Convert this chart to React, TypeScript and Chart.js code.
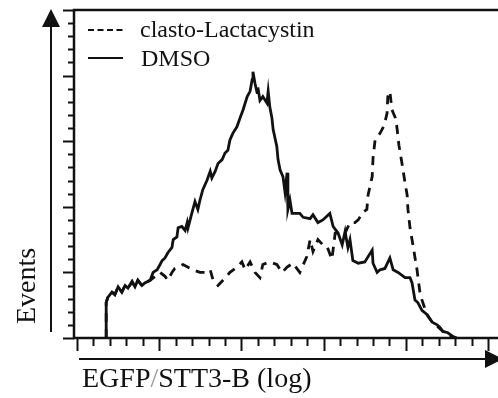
import React, { useEffect, useRef } from "react";
import { Chart, registerables } from "chart.js";

Chart.register(...registerables);

// Histogram data: channel (0..1024, log display) vs events
const dmsoChannels = [
  71, 71, 75, 85, 92, 100, 109, 117, 124, 134,
  141, 148, 158, 165, 178, 185, 195, 202, 207, 214,
  221, 231, 234, 243, 246, 255, 263, 268, 270, 280,
  287, 294, 299, 306, 316, 324, 328, 336, 343, 353,
  360, 367, 372, 379, 389, 397, 404, 414, 421, 426,
  428, 433, 438, 440, 445, 452, 462, 465, 469, 474,
  477, 486, 489, 494, 501, 506, 511, 513, 518, 523,
  542, 550, 567, 574, 586, 598, 615, 623, 635, 645,
  652, 659, 664, 671, 684, 700, 718, 720, 730, 737,
  749, 761, 769, 781, 798, 810, 815, 822, 829, 839,
  851, 864, 876, 883, 890, 902, 915, 924,
];
const dmsoCounts = [
  0, 27, 31, 35, 33, 39, 35, 40, 38, 43,
  39, 44, 40, 42, 44, 50, 52, 56, 59, 61,
  65, 69, 75, 77, 84, 85, 82, 88, 84, 96,
  104, 98, 105, 113, 120, 127, 122, 127, 133, 136,
  141, 143, 151, 156, 161, 168, 174, 184, 188, 197,
  203, 194, 187, 191, 181, 184, 179, 188, 176, 168,
  159, 146, 136, 128, 123, 111, 126, 98, 105, 95,
  95, 92, 91, 94, 88, 90, 95, 85, 80, 71,
  81, 69, 75, 59, 57, 58, 67, 57, 50, 52,
  53, 61, 52, 50, 46, 46, 42, 29, 27, 21,
  18, 12, 10, 8, 5, 4, 1, 0,
];

const clastoChannels = [
  71, 71, 75, 85, 92, 100, 109, 117, 124, 134,
  141, 148, 158, 165, 178, 190, 202, 214, 221, 231,
  238, 258, 270, 282, 299, 311, 324, 331, 343, 355,
  372, 389, 401, 409, 421, 433, 445, 452, 469, 486,
  499, 511, 525, 542, 559, 567, 574, 586, 598, 608,
  620, 628, 652, 664, 676, 684, 696, 705, 708, 718,
  720, 725, 737, 747, 754, 756, 761, 766, 774, 778,
  783, 791, 798, 803, 805, 810, 817, 827, 834, 839,
  851, 864, 876, 890, 902, 919,
];
const clastoCounts = [
  0, 27, 31, 35, 33, 39, 35, 40, 38, 43,
  39, 44, 40, 42, 44, 47, 50, 47, 44, 50,
  53, 56, 54, 52, 50, 50, 52, 44, 40, 44,
  50, 54, 58, 52, 58, 50, 46, 56, 58, 56,
  50, 54, 57, 50, 62, 75, 66, 75, 71, 70,
  60, 80, 80, 88, 88, 90, 96, 98, 109, 123,
  137, 151, 156, 162, 171, 184, 188, 174, 168, 161,
  147, 132, 118, 109, 98, 84, 71, 52, 35, 29,
  18, 12, 9, 5, 2, 0,
];

const seriesNames = ["clasto-Lactacystin", "DMSO"];
const xMajorTicks = [0, 200, 400, 600, 800, 1000];
const xMinorStep = 40;
const yMajorTicks = [0, 50, 100, 150, 200, 250];
const yMinorStep = 10;
const xTitleParts = ["EGFP", "/", "STT3-B (log)"];
const yTitle = "Events";

const INK = "#111111";
const FONT = '"Liberation Serif", "DejaVu Serif", serif';

const decorPlugin = {
  id: "decor",
  afterDatasetsDraw(chart: any) {
    const { ctx, chartArea, scales } = chart;
    const xs = scales.x;
    const ys = scales.y;
    const L = chartArea.left;
    const R = chartArea.right;
    const T = chartArea.top;
    const B = chartArea.bottom;
    ctx.save();
    ctx.strokeStyle = INK;
    ctx.fillStyle = INK;
    ctx.lineCap = "butt";

    // frame: left, top, bottom
    ctx.lineWidth = 2.5;
    ctx.beginPath();
    ctx.moveTo(L, B + 1);
    ctx.lineTo(L, T);
    ctx.lineTo(R, T);
    ctx.moveTo(L - 1, B);
    ctx.lineTo(R, B);
    ctx.stroke();

    // y ticks
    ctx.lineWidth = 2;
    for (let v = 0; v <= ys.max + 0.001; v += yMinorStep) {
      const py = Math.round(ys.getPixelForValue(v)) + 0.5;
      const major = yMajorTicks.includes(Math.round(v));
      ctx.beginPath();
      ctx.moveTo(L, py);
      ctx.lineTo(L - (major ? 11 : 6), py);
      ctx.stroke();
    }
    // x ticks
    for (let v = 0; v <= 1000; v += xMinorStep) {
      const px = Math.round(xs.getPixelForValue(v)) + 0.5;
      const major = xMajorTicks.includes(v);
      ctx.beginPath();
      ctx.moveTo(px, B);
      ctx.lineTo(px, B + (major ? 13 : 8));
      ctx.stroke();
    }

    // y arrow
    const ax = L - 23;
    ctx.lineWidth = 2;
    ctx.beginPath();
    ctx.moveTo(ax, B - 6);
    ctx.lineTo(ax, T + 15);
    ctx.stroke();
    ctx.beginPath();
    ctx.moveTo(ax, T - 1);
    ctx.lineTo(ax - 9, T + 17);
    ctx.lineTo(ax + 9, T + 17);
    ctx.closePath();
    ctx.fill();

    // x arrow
    const ay = B + 21;
    ctx.beginPath();
    ctx.moveTo(L + 5, ay);
    ctx.lineTo(R - 12, ay);
    ctx.stroke();
    ctx.beginPath();
    ctx.moveTo(R + 5, ay);
    ctx.lineTo(R - 13, ay - 9);
    ctx.lineTo(R - 13, ay + 9);
    ctx.closePath();
    ctx.fill();

    // legend
    ctx.lineWidth = 2;
    ctx.setLineDash([6, 3.5]);
    ctx.beginPath();
    ctx.moveTo(L + 14, T + 20);
    ctx.lineTo(L + 51, T + 20);
    ctx.stroke();
    ctx.setLineDash([]);
    ctx.beginPath();
    ctx.moveTo(L + 14, T + 48);
    ctx.lineTo(L + 49, T + 48);
    ctx.stroke();
    ctx.font = "24px " + FONT;
    ctx.textBaseline = "alphabetic";
    ctx.textAlign = "left";
    ctx.fillText(seriesNames[0], L + 66, T + 27);
    ctx.fillText(seriesNames[1], L + 67, T + 56);

    // x title
    ctx.font = "28px " + FONT;
    let tx = 82;
    const tyb = 387;
    ctx.fillStyle = INK;
    ctx.fillText(xTitleParts[0], tx, tyb);
    tx += ctx.measureText(xTitleParts[0]).width;
    ctx.fillStyle = "#9a9a9a";
    ctx.fillText(xTitleParts[1], tx, tyb);
    tx += ctx.measureText(xTitleParts[1]).width;
    ctx.fillStyle = INK;
    ctx.fillText(xTitleParts[2], tx, tyb);

    // y title
    ctx.save();
    ctx.translate(35, 286);
    ctx.rotate(-Math.PI / 2);
    ctx.textAlign = "center";
    ctx.fillText(yTitle, 0, 0);
    ctx.restore();

    ctx.restore();
  },
};

export default function App() {
  const ref = useRef<HTMLCanvasElement>(null);
  useEffect(() => {
    if (!ref.current) return;
    const chart = new Chart(ref.current, {
      type: "line",
      data: {
        datasets: [
          {
            label: seriesNames[0],
            data: clastoChannels.map((c, i) => ({ x: c, y: clastoCounts[i] })),
            borderColor: INK,
            borderWidth: 2.8,
            borderDash: [9, 7],
            pointRadius: 0,
            tension: 0,
            fill: false,
          },
          {
            label: seriesNames[1],
            data: dmsoChannels.map((c, i) => ({ x: c, y: dmsoCounts[i] })),
            borderColor: INK,
            borderWidth: 2.8,
            pointRadius: 0,
            tension: 0,
            fill: false,
          },
        ],
      },
      options: {
        animation: false,
        responsive: false,
        devicePixelRatio: 1,
        layout: { padding: { left: 74, top: 10, right: 0, bottom: 60 } },
        plugins: { legend: { display: false }, tooltip: { enabled: false } },
        scales: {
          x: { type: "linear", min: -7.3, max: 1024, display: false },
          y: { type: "linear", min: 0, max: 250, display: false },
        },
      },
      plugins: [decorPlugin],
    });
    return () => chart.destroy();
  }, []);
  return (
    <div style={{ position: "absolute", left: 0, top: 0, width: 498, height: 398, background: "#fff" }}>
      <canvas ref={ref} width={498} height={398} style={{ width: 498, height: 398 }} />
    </div>
  );
}
